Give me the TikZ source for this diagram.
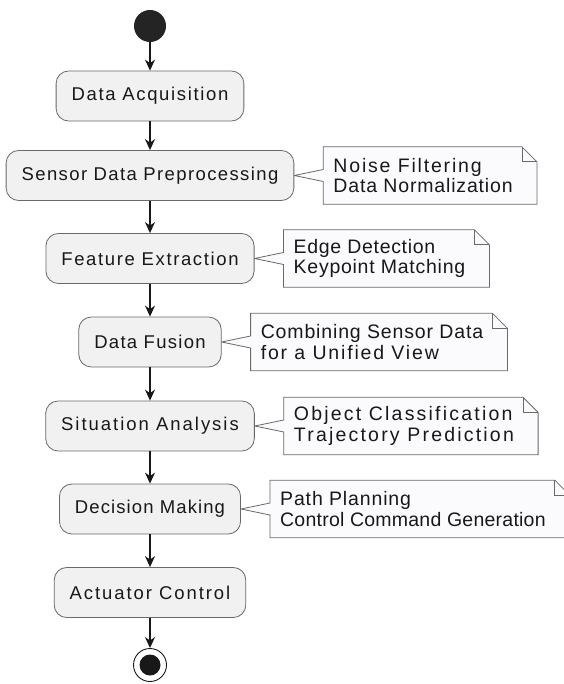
\documentclass[tikz,border=0pt]{standalone}
\usepackage{fontspec}
\setmainfont{Liberation Sans}
\newfontfamily\actfont[Ligatures=CommonOff]{Liberation Sans}
\newfontfamily\notefont[Ligatures=CommonOff]{Liberation Sans}
\usepackage{tikz}
\usetikzlibrary{arrows.meta,positioning,backgrounds}
\definecolor{ink}{RGB}{24,24,24}
\definecolor{shell}{RGB}{241,241,241}
\definecolor{paper}{RGB}{251,251,254}
\definecolor{rim}{RGB}{105,105,105}
\tikzset{
  >={Stealth[length=11pt,width=10pt,inset=3.5pt]},
  act/.style={draw=rim,fill=shell,line width=0.8pt,rounded corners=12.5pt,
    minimum height=50pt,inner xsep=15.5pt,text=ink,
    font=\actfont\fontsize{18.5}{20.5}\selectfont},
  note/.style={align=left,inner xsep=10pt,minimum height=57pt,text=ink,
    font=\notefont\fontsize{19.5}{20.5}\selectfont},
  notebox/.style={draw=rim,fill=paper,line width=0.8pt,line join=miter},
  flow/.style={->,line width=1.3pt,draw=ink},
}
\newcommand{\spaced}[2]{{\addfontfeature{LetterSpace=#1}#2}}

\begin{document}
\begin{tikzpicture}[x=1pt,y=-1pt]
  \useasboundingbox (0,0) rectangle (563,684);
  \node[circle,fill=ink!95,minimum size=32pt,inner sep=0pt] (start) at (150,26) {};
  \foreach \n/\y/\s/\t in {
      1/96/8.9/Data Acquisition,
      2/175.5/7.5/Sensor Data Preprocessing,
      3/258.5/8.8/Feature Extraction,
      4/342/7.0/Data Fusion,
      5/426/10.7/Situation Analysis,
      6/509/6.0/Decision Making,
      7/592.5/10.4/Actuator Control}
    \node[act] (a\n) at (150,\y) {\spaced{\s}{\t}};
  \node[circle,draw=ink,line width=0.9pt,fill=white,minimum size=33pt,inner sep=0pt] (stop) at (150,665) {};
  \fill[ink] (stop.center) circle (10.5pt);
  % notes
  \foreach \n/\a/\sa/\b/\sb in {
      2/Noise Filtering/9.3/Data Normalization/4.3,
      3/Edge Detection/3.5/Keypoint Matching/3.8,
      4/Combining Sensor Data/4.4/for a Unified View/9.4,
      5/Object Classification/11.3/Trajectory Prediction/11.3,
      6/Path Planning/4.4/Control Command Generation/1.2}
  {
    \node[note,right=29pt of a\n] (n\n) {\spaced{\sa}{\a}\\\spaced{\sb}{\b}};
    \begin{scope}[on background layer]
      \draw[notebox] (n\n.north west) -- ([xshift=-1pt]n\n.north east)
        -- ([xshift=14pt,yshift=-15pt]n\n.north east) -- ([xshift=14pt]n\n.south east)
        -- (n\n.south west) -- ([yshift=-6pt]n\n.west) -- (a\n.east)
        -- ([yshift=6pt]n\n.west) -- cycle;
      \draw[rim,line width=0.8pt] ([xshift=-1pt]n\n.north east) -- ++(0,-15pt)
        -- ([xshift=14pt,yshift=-15pt]n\n.north east);
    \end{scope}
  }
  % arrows
  \foreach \p/\q in {start/a1,a1/a2,a2/a3,a3/a4,a4/a5,a5/a6,a6/a7,a7/stop}
    \draw[flow] (\p) -- (\q);
\end{tikzpicture}
\end{document}
